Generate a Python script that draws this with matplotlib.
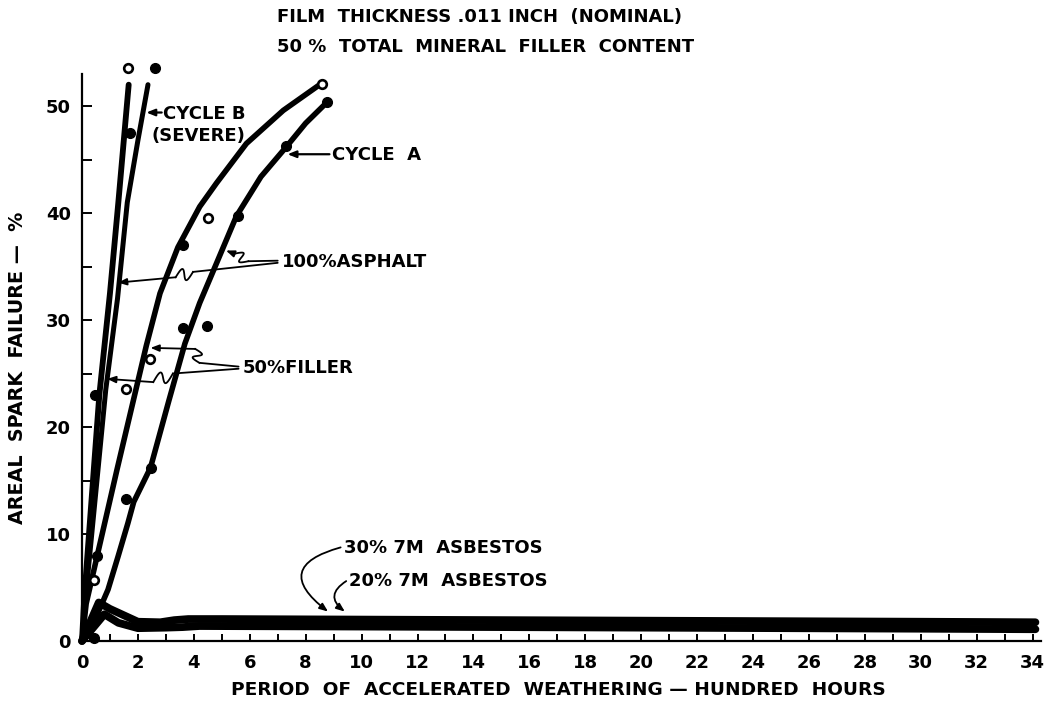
import numpy as np
import matplotlib
matplotlib.use("Agg")
import matplotlib.pyplot as plt
from matplotlib.ticker import MultipleLocator

# ---- data -----------------------------------------------------------------
# Cycle B (severe) lines
cycb_filler_x = [0, 0.08, 0.62, 1.0, 1.3, 1.67]
cycb_filler_y = [0, 4, 23, 32.5, 41, 52]
cycb_asph_x = [0, 0.2, 0.85, 1.27, 1.62, 2.0, 2.36]
cycb_asph_y = [0, 6, 23.5, 32, 41, 46.8, 52]

# Cycle A curves
cyca_filler_x = [0, 0.15, 1.25, 2.3, 2.79, 3.43, 4.21, 4.81, 5.88, 7.2, 8.5]
cyca_filler_y = [0, 3.5, 16, 27.6, 32.5, 36.8, 40.6, 42.8, 46.5, 49.6, 52]
cyca_asph_x = [0, 0.5, 0.93, 1.29, 1.64, 1.85, 2.45, 3.1, 3.68, 4.21, 4.81, 5.52, 6.4, 7.31, 8.0, 8.74]
cyca_asph_y = [0, 2.2, 4.8, 7.9, 11, 13.0, 16.2, 22.4, 27.8, 31.6, 35.3, 39.7, 43.4, 46.2, 48.4, 50.3]

# asbestos-filled films
asb30_x = [0, 0.6, 1.0, 2.0, 2.8, 3.3, 3.8, 5, 10, 15, 20, 25, 30, 34.1]
asb30_y = [0, 3.6, 3.0, 1.8, 1.75, 1.95, 2.05, 2.05, 2.0, 1.95, 1.9, 1.85, 1.8, 1.75]
asb20_x = [0, 0.8, 1.3, 2.0, 3.0, 3.6, 4.2, 10, 15, 20, 25, 30, 34.1]
asb20_y = [0, 2.5, 1.7, 1.2, 1.25, 1.3, 1.4, 1.35, 1.3, 1.25, 1.2, 1.15, 1.1]

# plotted observations
open_x = [1.64, 8.6, 4.5, 2.43, 1.57, 0.43]
open_y = [53.6, 52.1, 39.5, 26.4, 23.6, 5.7]
filled_x = [2.6, 1.71, 8.75, 7.3, 5.57, 3.6, 3.6, 4.46, 0.46, 2.46, 1.57, 0.53, 0.43]
filled_y = [53.6, 47.5, 50.4, 46.3, 39.7, 37.0, 29.3, 29.4, 23.0, 16.2, 13.3, 7.9, 0.3]

xticks = list(range(0, 35, 2))
yticks = [0, 10, 20, 30, 40, 50]

FONT = dict(family="DejaVu Sans", weight="bold")
X_PX, Y_PX = 27.97, 10.7      # reference pixels per data unit (used only for squiggle shapes)
HEAD = "-|>,head_length=0.5,head_width=0.2"


def squiggle(ax, tail, k0, k1, head, amp=6.0):
    """Hand-drawn style leader: straight lead, S-kink between k0 and k1, arrow to head."""
    ax.plot([tail[0], k0[0]], [tail[1], k0[1]], color="k", lw=1.3, solid_capstyle="round", zorder=6)
    p0 = np.array([k0[0] * X_PX, k0[1] * Y_PX])
    p1 = np.array([k1[0] * X_PX, k1[1] * Y_PX])
    d = p1 - p0
    n = np.array([-d[1], d[0]]) / np.hypot(*d)
    t = np.linspace(0, 1, 60)
    pts = p0 + np.outer(t + 0.22 * np.sin(2 * np.pi * t), d) + np.outer(amp * np.sin(2 * np.pi * t), n)
    ax.plot(pts[:, 0] / X_PX, pts[:, 1] / Y_PX, color="k", lw=1.3, zorder=6)
    ax.annotate("", xy=head, xytext=k1,
                arrowprops=dict(arrowstyle=HEAD, color="k", lw=1.3, shrinkA=0, shrinkB=0), zorder=6)


fig = plt.figure(figsize=(10.47, 7.03), dpi=100)
ax = fig.add_axes([82 / 1047, 62 / 703, (1041 - 82) / 1047, (641 - 74) / 703])

for xs, ys, lw in [(cycb_filler_x, cycb_filler_y, 4.2), (cycb_asph_x, cycb_asph_y, 3.6),
                   (cyca_filler_x, cyca_filler_y, 4.0), (cyca_asph_x, cyca_asph_y, 4.0),
                   (asb30_x, asb30_y, 5.6), (asb20_x, asb20_y, 5.6)]:
    ax.plot(xs, ys, color="k", lw=lw, solid_capstyle="round", solid_joinstyle="round", clip_on=False, zorder=3)

ax.plot(open_x, open_y, "o", ms=6.2, mfc="white", mec="k", mew=1.9, clip_on=False, zorder=5)
ax.plot(filled_x, filled_y, "o", ms=7, color="k", clip_on=False, zorder=5)

ax.set_xlim(0, 34.3)
ax.set_ylim(0, 53)
for s in ("top", "right"):
    ax.spines[s].set_visible(False)
for s in ("left", "bottom"):
    ax.spines[s].set_linewidth(1.6)

ax.set_xticks(xticks)
ax.xaxis.set_minor_locator(MultipleLocator(1))
ax.set_yticks(yticks)
ax.yaxis.set_minor_locator(MultipleLocator(5))
ax.tick_params(axis="x", which="both", direction="in", length=5, width=1.4, pad=9)
ax.tick_params(axis="y", which="both", direction="in", length=7, width=1.4, pad=8)
for lab in ax.get_xticklabels() + ax.get_yticklabels():
    lab.set_fontsize(13)
    lab.set_fontweight("bold")

# titles and axis labels
fig.text(277 / 1047, 1 - 17 / 703, "FILM  THICKNESS .011 INCH  (NOMINAL)", fontsize=13, va="center", **FONT)
fig.text(277 / 1047, 1 - 47 / 703, "50 %  TOTAL  MINERAL  FILLER  CONTENT", fontsize=13, va="center", **FONT)
fig.text(18 / 1047, 1 - 368 / 703, "AREAL  SPARK  FAILURE —  %", fontsize=13.8, rotation=90,
         ha="center", va="center", **FONT)
fig.text(558 / 1047, 1 - 690 / 703, "PERIOD  OF  ACCELERATED  WEATHERING — HUNDRED  HOURS", fontsize=13.3,
         ha="center", va="center", **FONT)

# curve labels
ax.text(2.9, 49.3, "CYCLE B", fontsize=13, va="center", **FONT)
ax.text(2.5, 47.2, "(SEVERE)", fontsize=13, va="center", **FONT)
ax.annotate("", xy=(2.3, 49.4), xytext=(2.85, 49.4),
            arrowprops=dict(arrowstyle=HEAD, color="k", lw=1.6, shrinkA=0, shrinkB=0))
ax.text(8.95, 45.4, "CYCLE  A", fontsize=13, va="center", **FONT)
ax.annotate("", xy=(7.35, 45.5), xytext=(8.85, 45.5),
            arrowprops=dict(arrowstyle=HEAD, color="k", lw=1.6, shrinkA=0, shrinkB=0))

ax.text(7.15, 35.4, "100%ASPHALT", fontsize=13, va="center", **FONT)
squiggle(ax, (7.0, 35.55), (5.95, 35.5), (5.45, 36.2), (5.15, 36.5), amp=5)
squiggle(ax, (7.0, 35.35), (3.97, 34.5), (3.35, 34.0), (1.29, 33.5), amp=6)

ax.text(5.76, 25.5, "50%FILLER", fontsize=13, va="center", **FONT)
squiggle(ax, (5.6, 25.65), (4.2, 26.0), (4.05, 27.3), (2.45, 27.4), amp=5)
squiggle(ax, (5.6, 25.45), (3.25, 25.0), (2.55, 24.2), (0.9, 24.5), amp=6)

ax.text(9.37, 8.7, "30% 7M  ASBESTOS", fontsize=13, va="center", **FONT)
ax.annotate("", xy=(8.8, 2.75), xytext=(9.25, 8.75),
            arrowprops=dict(arrowstyle=HEAD, color="k", lw=1.3, shrinkA=0, shrinkB=0,
                            connectionstyle="arc3,rad=1.0"))
ax.text(9.55, 5.6, "20% 7M  ASBESTOS", fontsize=13, va="center", **FONT)
ax.annotate("", xy=(9.4, 2.75), xytext=(9.45, 5.6),
            arrowprops=dict(arrowstyle=HEAD, color="k", lw=1.3, shrinkA=0, shrinkB=0,
                            connectionstyle="arc3,rad=0.7"))

fig.savefig("out.png", dpi=100)
